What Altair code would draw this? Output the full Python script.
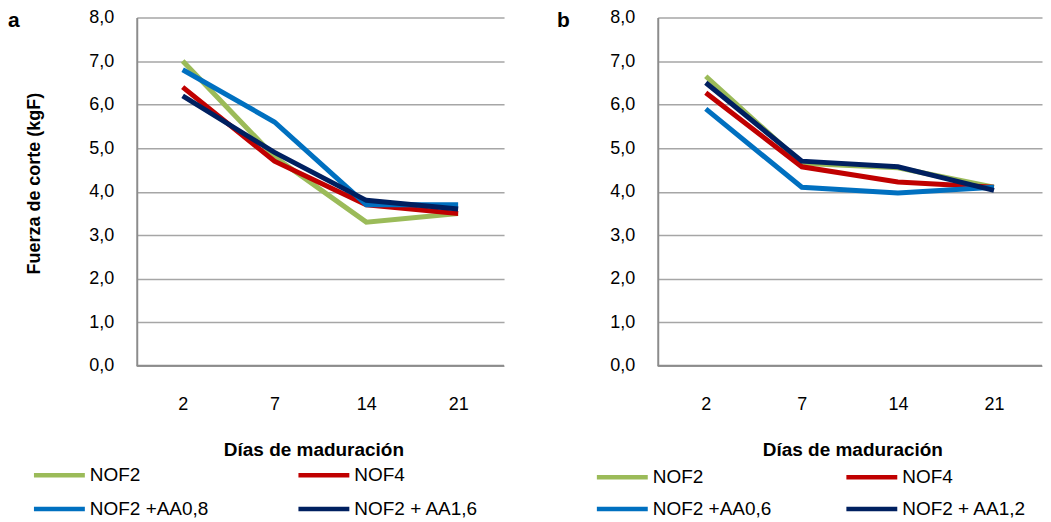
import altair as alt
import pandas as pd

days = ["2", "7", "14", "21"]

series_a = ["NOF2", "NOF4", "NOF2 +AA0,8", "NOF2 + AA1,6"]
a_nof2 = [7.0, 4.8, 3.3, 3.5]
a_nof4 = [6.4, 4.7, 3.7, 3.5]
a_aa08 = [6.8, 5.6, 3.7, 3.7]
a_aa16 = [6.2, 4.9, 3.8, 3.6]

series_b = ["NOF2", "NOF4", "NOF2 +AA0,6", "NOF2 + AA1,2"]
b_nof2 = [6.65, 4.65, 4.55, 4.1]
b_nof4 = [6.27, 4.57, 4.22, 4.1]
b_aa06 = [5.9, 4.1, 3.97, 4.1]
b_aa12 = [6.5, 4.7, 4.57, 4.03]

colors = ["#9BBB59", "#C00000", "#0070C0", "#002060"]
y_ticks = [0, 1, 2, 3, 4, 5, 6, 7, 8]

FONT = "Liberation Sans, Arial, sans-serif"
LEGEND_LINE = "M-2.833,0H2.833"


def make_df(series, values):
    rows = []
    for s, vals in zip(series, values):
        for d, v in zip(days, vals):
            rows.append({"dia": d, "serie": s, "fuerza": v})
    return pd.DataFrame(rows)


def panel(series, values, letter, width, show_ytitle, legend_x, legend_y,
          col_pad, row_pad, letter_dx, xtitle_x):
    df = make_df(series, values)
    y_axis = alt.Axis(
        values=y_ticks,
        labelExpr="replace(format(datum.value, '.1f'), '.', ',')",
        labelFont=FONT, labelFontSize=18, labelColor="#000000",
        labelPadding=23, ticks=False, tickSize=0,
        domainColor="#8c8c8c", domainWidth=2,
        gridColor="#a6a6a6", gridWidth=1.5,
        title="Fuerza de corte (kgF)" if show_ytitle else None,
        titleFont=FONT, titleFontSize=18, titleFontWeight="bold",
        titleColor="#000000", titleX=-102, titleY=166,
        titleBaseline="middle", titleAngle=270,
    )
    x_axis = alt.Axis(
        labelFont=FONT, labelFontSize=18, labelColor="#000000",
        labelPadding=30, labelAngle=0, ticks=False, tickSize=0,
        domain=False, grid=False,
        title="Días de maduración", titleFont=FONT, titleFontSize=19,
        titleFontWeight="bold", titleColor="#000000", titlePadding=27,
        titleX=xtitle_x,
    )
    legend = alt.Legend(
        title=None, orient="none", direction="horizontal",
        legendX=legend_x, legendY=legend_y,
        columns=2, symbolType=LEGEND_LINE, symbolSize=324,
        symbolStrokeWidth=4.5, labelFont=FONT, labelFontSize=19,
        labelColor="#000000", labelOffset=19, columnPadding=col_pad,
        rowPadding=row_pad, labelLimit=300,
    )
    lines = alt.Chart(df).mark_line(strokeWidth=5).encode(
        x=alt.X("dia:N", sort=days, axis=x_axis,
                scale=alt.Scale(type="point", padding=0.5)),
        y=alt.Y("fuerza:Q", axis=y_axis,
                scale=alt.Scale(domain=[0, 8], nice=False)),
        color=alt.Color("serie:N", sort=series, legend=legend,
                        scale=alt.Scale(domain=series, range=colors)),
    )
    base = alt.Chart(pd.DataFrame({"y0": [0]})).mark_rule(
        color="#8c8c8c", strokeWidth=2
    ).encode(y="y0:Q")
    return alt.layer(base, lines).properties(
        width=width, height=349,
        title=alt.TitleParams(
            text=letter, anchor="start", frame="group", dx=letter_dx,
            font=FONT, fontSize=21, fontWeight="bold",
            color="#000000", offset=-40, baseline="alphabetic",
        ),
    )


pa = panel(series_a, [a_nof2, a_nof4, a_aa08, a_aa16], "a", 368, True,
           -89, 447, 81, 12, -129, 177)
pb = panel(series_b, [b_nof2, b_nof4, b_aa06, b_aa12], "b", 385, False,
           -47, 449, 66, 10, -101, 195)

chart = alt.hconcat(pa, pb, spacing=52).resolve_scale(
    color="independent"
).configure_view(stroke=None).properties(
    padding={"left": 0, "top": 0, "right": 0, "bottom": 0}
)

chart.save("out.html", embed_options={"renderer": "svg", "actions": False})
